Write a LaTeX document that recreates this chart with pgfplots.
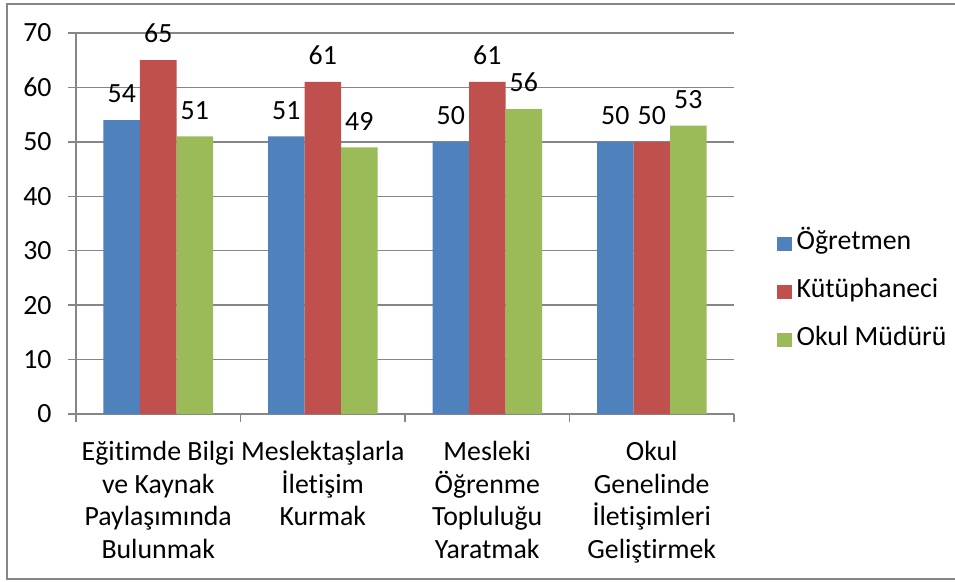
\documentclass[border=0pt]{standalone}
\usepackage{fontspec}
\setmainfont{Carlito}[Ligatures=NoCommon]
\usepackage{pgfplots}
\pgfplotsset{compat=1.18}
\definecolor{cblue}{HTML}{4F81BD}
\definecolor{cred}{HTML}{C0504D}
\definecolor{cgreen}{HTML}{9BBB59}
\definecolor{cgrid}{HTML}{868686}
\begin{document}
\fontsize{27.8}{32.5}\selectfont
\begin{tikzpicture}
\useasboundingbox (-76pt,-167pt) rectangle (879pt,414pt);
\draw[cgrid, line width=1.3pt] (882pt,410pt) -- (-69pt,410pt) -- (-69pt,-165pt) -- (882pt,-165pt);
\begin{axis}[
  at={(0pt,0pt)}, anchor=south west,
  width=658pt, height=381pt, scale only axis,
  xmin=-0.5, xmax=3.5, ymin=0, ymax=70,
  ytick={0,10,...,70},
  xtick={-0.5,0.5,1.5,2.5,3.5},
  xticklabels={},
  extra x ticks={0,1,2,3},
  extra x tick labels={{Eğitimde Bilgi\\ve Kaynak\\Paylaşımında\\Bulunmak},{Meslektaşlarla\\İletişim\\Kurmak},{Mesleki\\Öğrenme\\Topluluğu\\Yaratmak},{Okul\\Genelinde\\İletişimleri\\Geliştirmek}},
  extra x tick style={xtick style={draw=none}, grid=none},
  xticklabel style={align=center, yshift=-10pt},
  axis x line*=bottom, axis y line*=left,
  axis line style={cgrid, line width=1.3pt, -},
  tick style={cgrid, line width=1.3pt},
  tick align=outside,
  major tick length=8pt,
  ymajorgrids, grid style={cgrid, line width=1.3pt},
  yticklabel style={xshift=-7pt},
  ybar=0pt, bar width=36.5pt,
  nodes near coords,
  every node near coord/.append style={anchor=south, inner sep=0pt, yshift=17pt, text=black},
  /pgf/number format/assume math mode=true,
  legend style={draw=none, fill=none, at={(1.0654,0.320)}, anchor=west, inner sep=0pt, row sep=27pt,
    nodes={inner xsep=4.5pt, inner ysep=0pt, text height=16pt, text depth=5pt}},
  legend cell align=left,
  legend image code/.code={\fill[#1] (0pt,-7pt) rectangle (15pt,7pt);},
]
\addplot[fill=cblue, draw=none] coordinates {(0,54) (1,51) (2,50) (3,50)};
\addplot[fill=cred, draw=none] coordinates {(0,65) (1,61) (2,61) (3,50)};
\addplot[fill=cgreen, draw=none] coordinates {(0,51) (1,49) (2,56) (3,53)};
\legend{Öğretmen, Kütüphaneci, Okul Müdürü}
\end{axis}
\end{tikzpicture}
\end{document}
